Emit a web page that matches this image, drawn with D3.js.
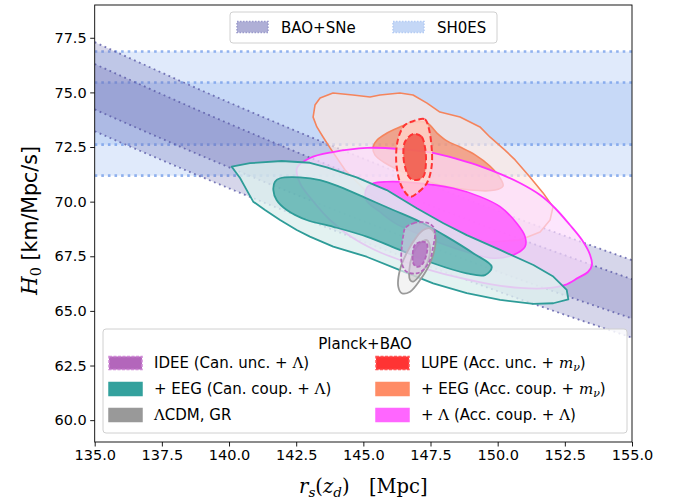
<!DOCTYPE html>
<html>
<head>
<meta charset="utf-8">
<script src="https://cdn.jsdelivr.net/npm/d3@7"></script>
<style>
  body { margin: 0; background: #fff; }
  text { font-family: "DejaVu Sans", sans-serif; }
</style>
</head>
<body>
<div id="container"></div>
<script>

  // ---- data ----
  let xTicks = [135, 137.5, 140, 142.5, 145, 147.5, 150, 152.5, 155];
  let yTicks = [60, 62.5, 65, 67.5, 70, 72.5, 75, 77.5];

  // SH0ES H0 bands [lo, hi]
  let sh0es1 = [72.61, 75.45];
  let sh0es2 = [71.19, 76.87];

  // BAO+SNe bands: [rs, lo, hi]
  let bao1 = [[135, 74.22, 76.30], [140, 71.57, 73.57], [145, 69.10, 71.03], [150, 66.80, 68.67], [155, 64.65, 66.45]];
  let bao2 = [[135, 73.22, 77.30], [140, 70.61, 74.54], [145, 68.17, 71.97], [150, 65.90, 69.57], [155, 63.77, 67.32]];

  // contours [rs, H0]
  let eegAccOuter = [[143.20, 74.42], [143.39, 74.74], [143.87, 74.97], [144.61, 74.88], [145.25, 74.79], [145.62, 74.88],
    [146.36, 74.97], [146.85, 74.88], [147.37, 74.51], [147.85, 74.10], [148.60, 73.87], [149.34, 73.42], [149.71, 72.96],
    [150.27, 72.36], [150.65, 71.91], [151.20, 71.13], [151.69, 70.40], [152.06, 69.76], [151.95, 69.16], [151.58, 68.61],
    [150.83, 68.24], [149.71, 68.15], [148.41, 68.47], [147.11, 69.07], [145.99, 69.76], [145.06, 70.53], [144.32, 71.45],
    [143.76, 72.46], [143.50, 72.96], [143.27, 73.42], [143.13, 73.87]];
  let eegAccInner = [[145.36, 72.50], [145.51, 72.82], [145.88, 73.14], [146.36, 73.42], [146.92, 73.65], [147.37, 73.60],
    [147.74, 73.14], [148.11, 72.78], [148.60, 72.50], [149.16, 72.14], [149.71, 71.63], [150.09, 71.08], [150.20, 70.72],
    [149.90, 70.53], [148.97, 70.53], [147.85, 70.76], [146.74, 71.22], [145.81, 71.77], [145.43, 72.14]];

  let lamAccOuter = [[142.53, 71.54], [143.01, 72.00], [143.87, 72.27], [145.14, 72.46], [146.36, 72.41], [147.59, 72.23],
    [148.60, 71.91], [149.34, 71.63], [150.09, 71.27], [150.83, 70.85], [151.58, 70.30], [152.13, 69.71], [152.69, 68.93],
    [153.14, 68.24], [153.44, 67.56], [153.51, 67.10], [153.36, 66.78], [152.99, 66.51], [152.51, 66.19], [151.95, 66.05],
    [150.83, 66.05], [149.71, 66.23], [148.60, 66.51], [147.48, 66.87], [146.36, 67.33], [145.43, 67.79], [144.50, 68.43],
    [143.76, 69.16], [143.09, 70.08], [142.64, 70.85]];
  let lamAccInner = [[145.12, 70.61], [145.37, 70.84], [145.87, 70.91], [146.86, 70.87], [148.35, 70.61], [149.34, 70.23],
    [150.09, 69.77], [150.71, 69.01], [151.02, 68.40], [151.02, 67.94], [150.58, 67.56], [149.84, 67.41], [148.85, 67.70],
    [147.85, 68.11], [146.99, 68.55], [146.18, 69.02], [145.62, 69.53], [145.10, 70.08]];

  let lupeOuter = [[146.80, 73.66], [147.29, 73.77], [147.42, 73.43], [147.54, 72.51], [147.54, 71.60], [147.36, 70.84],
    [146.99, 70.38], [146.74, 70.23], [146.43, 70.68], [146.24, 71.60], [146.24, 72.51], [146.36, 73.13], [146.55, 73.51]];
  let lupeInner = [[146.86, 73.10], [147.17, 72.97], [147.29, 72.51], [147.33, 71.76], [147.23, 71.14], [146.99, 70.99],
    [146.74, 71.07], [146.55, 71.60], [146.49, 72.21], [146.55, 72.74]];

  let eegCanOuter = [[140.10, 71.60], [140.78, 71.76], [141.96, 71.86], [143.01, 71.78], [143.64, 71.57], [144.75, 71.11],
    [145.87, 70.53], [146.99, 69.70], [147.98, 69.01], [148.85, 68.47], [150.09, 67.79], [151.33, 67.10], [152.07, 66.57],
    [152.57, 65.96], [152.63, 65.53], [152.07, 65.35], [151.33, 65.32], [150.09, 65.50], [148.85, 65.81], [147.60, 66.26],
    [146.36, 66.87], [145.12, 67.48], [143.88, 67.94], [143.01, 68.40], [142.52, 68.70], [141.90, 69.16], [141.34, 69.62],
    [140.90, 70.00], [140.66, 70.53], [140.41, 71.08]];
  let eegCanInner = [[141.71, 70.91], [141.90, 71.07], [142.64, 71.11], [143.39, 70.99], [144.13, 70.68], [145.12, 70.15],
    [146.11, 69.62], [147.11, 69.08], [148.10, 68.40], [149.09, 67.64], [149.78, 67.02], [149.53, 66.64], [148.85, 66.72],
    [147.60, 67.18], [146.36, 67.79], [145.12, 68.40], [143.88, 68.85], [142.89, 69.16], [142.15, 69.62], [141.77, 70.08],
    [141.65, 70.53]];

  let lcdmOuter = [[147.48, 68.78], [147.67, 68.47], [147.67, 67.94], [147.48, 67.18], [147.11, 66.41], [146.74, 65.88],
    [146.43, 65.81], [146.30, 66.11], [146.36, 66.87], [146.61, 67.64], [146.99, 68.40], [147.23, 68.70]];
  let lcdmInner = [[147.36, 68.24], [147.48, 67.94], [147.42, 67.33], [147.11, 66.64], [146.86, 66.34], [146.74, 66.41],
    [146.71, 66.87], [146.86, 67.64], [147.11, 68.09]];

  let ideeOuter = [[146.55, 68.78], [146.86, 69.01], [147.36, 69.04], [147.60, 68.85], [147.67, 68.55], [147.60, 67.94],
    [147.48, 67.33], [147.23, 66.87], [146.99, 66.72], [146.61, 66.79], [146.43, 67.18], [146.43, 67.94], [146.49, 68.47]];
  let ideeInner = [[146.92, 68.02], [147.17, 68.17], [147.36, 68.09], [147.36, 67.64], [147.17, 67.10], [146.99, 67.02],
    [146.86, 67.18], [146.84, 67.64]];

  let topLegend = ["BAO+SNe", "SH0ES"];

  // ---- layout ----
  let svg_width = 681;
  let svg_height = 499;
  let padding = {top: 5, right: 49, bottom: 57, left: 94.7};

  let xScale = d3.scaleLinear().domain([135, 155]).range([padding.left, svg_width - padding.right]);
  let yScale = d3.scaleLinear().domain([59, 79]).range([svg_height - padding.bottom, padding.top]);

  let svg = d3.select("#container").append("svg")
          .attr("width", svg_width)
          .attr("height", svg_height);

  svg.append("clipPath").attr("id", "plotclip")
          .append("rect")
          .attr("x", padding.left).attr("y", padding.top)
          .attr("width", xScale(155) - xScale(135))
          .attr("height", yScale(59) - yScale(79));

  let plot = svg.append("g").attr("clip-path", "url(#plotclip)");

  // SH0ES
  [sh0es2, sh0es1].forEach(function (b) {
    plot.append("rect")
            .attr("x", xScale(135)).attr("width", xScale(155) - xScale(135))
            .attr("y", yScale(b[1])).attr("height", yScale(b[0]) - yScale(b[1]))
            .attr("fill", "#6495ed").attr("fill-opacity", 0.2);
  });
  [sh0es2, sh0es1].forEach(function (b) {
    b.forEach(function (v) {
      plot.append("line")
              .attr("x1", xScale(135)).attr("x2", xScale(155))
              .attr("y1", yScale(v)).attr("y2", yScale(v))
              .attr("stroke", "#6f9ae8").attr("stroke-opacity", 0.75)
              .attr("stroke-width", 2.6).attr("stroke-dasharray", "2.6 4");
    });
  });

  // BAO+SNe
  let area = d3.area().x(function (d) { return xScale(d[0]) })
          .y0(function (d) { return yScale(d[1]) })
          .y1(function (d) { return yScale(d[2]) })
          .curve(d3.curveMonotoneX);
  [bao2, bao1].forEach(function (b) {
    plot.append("path").datum(b).attr("d", area)
            .attr("fill", "#6a6ab4").attr("fill-opacity", 0.28);
  });
  [bao2, bao1].forEach(function (b) {
    [1, 2].forEach(function (k) {
      plot.append("path").datum(b)
              .attr("d", d3.line().x(function (d) { return xScale(d[0]) })
                      .y(function (d) { return yScale(d[k]) }).curve(d3.curveMonotoneX))
              .attr("fill", "none").attr("stroke", "#5a5aa8").attr("stroke-opacity", 0.8)
              .attr("stroke-width", 1.8).attr("stroke-dasharray", "1.8 3.6");
    });
  });

  // contours
  let smooth = d3.line().x(function (d) { return xScale(d[0]) }).y(function (d) { return yScale(d[1]) })
          .curve(d3.curveCatmullRomClosed.alpha(0.5));
  let rough = d3.line().x(function (d) { return xScale(d[0]) }).y(function (d) { return yScale(d[1]) })
          .curve(d3.curveLinearClosed);

  let drawContour = function (pts, gen, fill, op, stroke, sw, dash) {
    plot.append("path").datum(pts).attr("d", gen)
            .attr("fill", fill).attr("fill-opacity", op)
            .attr("stroke", stroke).attr("stroke-width", sw)
            .attr("stroke-dasharray", dash || null)
            .attr("stroke-linejoin", "round");
  };

  drawContour(eegAccOuter, rough, "#ffe8e0", 0.65, "#f5845c", 1.6);
  drawContour(eegAccInner, smooth, "#f07850", 0.6, "#f5845c", 1.6);
  drawContour(lamAccOuter, smooth, "#fcdcfc", 0.7, "#ff33ff", 1.8);
  drawContour(lamAccInner, smooth, "#ff5cff", 0.85, "#ff33ff", 1.6);
  drawContour(lupeOuter, smooth, "#ffd4cc", 0.8, "#ff3333", 2, "6 3");
  drawContour(lupeInner, smooth, "#f05545", 0.85, "#ff3333", 2, "6 3");
  drawContour(eegCanOuter, rough, "#dcefee", 0.8, "#2e9c98", 1.8);
  drawContour(eegCanInner, smooth, "#33a19d", 0.62, "#2e9c98", 1.8);
  drawContour(lcdmOuter, smooth, "#eeeeee", 0.7, "#999999", 1.8);
  drawContour(lcdmInner, smooth, "#c8c8c8", 0.6, "#999999", 1.8);
  drawContour(ideeOuter, smooth, "#dcc8e6", 0.55, "#b366bb", 1.8, "4 2");
  drawContour(ideeInner, smooth, "#b070c0", 0.8, "#b366bb", 1.8, "4 2");

  // axes
  let x_axis = d3.axisBottom(xScale).tickValues(xTicks).tickFormat(d3.format(".1f")).tickSize(4.5).tickPadding(3.5);
  let y_axis = d3.axisLeft(yScale).tickValues(yTicks).tickFormat(d3.format(".1f")).tickSize(4.5).tickPadding(3.5);

  let gx = svg.append("g").attr("transform", "translate(0," + yScale(59) + ")").call(x_axis);
  let gy = svg.append("g").attr("transform", "translate(" + padding.left + ",0)").call(y_axis);
  [gx, gy].forEach(function (g) {
    g.select(".domain").remove();
    g.selectAll("text").style("font-size", "14.5px").style("font-family", "DejaVu Sans").attr("fill", "#000");
    g.selectAll("line").attr("stroke", "#000").attr("stroke-width", 0.9);
  });

  svg.append("rect")
          .attr("x", xScale(135)).attr("y", yScale(79))
          .attr("width", xScale(155) - xScale(135)).attr("height", yScale(59) - yScale(79))
          .attr("fill", "none").attr("stroke", "#000").attr("stroke-width", 0.9);

  // axis labels
  let xl = svg.append("text")
          .attr("x", (xScale(135) + xScale(155)) / 2).attr("y", 493)
          .attr("text-anchor", "middle")
          .style("font-family", "DejaVu Serif, serif").style("font-size", "19.5px");
  xl.append("tspan").style("font-style", "italic").text("r");
  xl.append("tspan").style("font-style", "italic").style("font-size", "13.5px").attr("dy", 4).text("s");
  xl.append("tspan").attr("dy", -4).text("(");
  xl.append("tspan").style("font-style", "italic").text("z");
  xl.append("tspan").style("font-style", "italic").style("font-size", "13.5px").attr("dy", 4).text("d");
  xl.append("tspan").attr("dy", -4).text(")\u2002\u2002[Mpc]");

  let yl = svg.append("text")
          .attr("transform", "translate(37," + ((yScale(59) + yScale(79)) / 2 - 3) + ") rotate(-90)")
          .attr("text-anchor", "middle")
          .style("font-size", "20.5px");
  yl.append("tspan").style("font-family", "DejaVu Serif, serif").style("font-style", "italic").style("font-size", "21.5px").text("H");
  yl.append("tspan").style("font-family", "DejaVu Serif, serif").style("font-size", "14.5px").attr("dy", 4).text("0");
  yl.append("tspan").attr("dy", -4).text(" [km/Mpc/s]");

  // top legend
  let lg1 = svg.append("g");
  lg1.append("rect").attr("x", 230).attr("y", 12).attr("width", 267).attr("height", 31).attr("rx", 3)
          .attr("fill", "#fff").attr("fill-opacity", 0.8).attr("stroke", "#d0d0d0");
  lg1.append("rect").attr("x", 237).attr("y", 21.5).attr("width", 31).attr("height", 11)
          .attr("fill", "#afafd6").attr("stroke", "#9a9acb").attr("stroke-width", 1.5).attr("stroke-dasharray", "1.5 1.5");
  lg1.append("rect").attr("x", 393).attr("y", 21.5).attr("width", 31).attr("height", 11)
          .attr("fill", "#c4d7f6").attr("stroke", "#b5ccf3").attr("stroke-width", 1.5).attr("stroke-dasharray", "1.5 1.5");
  lg1.append("text").attr("x", 281).attr("y", 33).style("font-size", "15px").text(topLegend[0]);
  lg1.append("text").attr("x", 437).attr("y", 33).style("font-size", "15px").text(topLegend[1]);

  // bottom legend
  let lg2 = svg.append("g");
  lg2.append("rect").attr("x", 103).attr("y", 329).attr("width", 524).attr("height", 104).attr("rx", 3)
          .attr("fill", "#fff").attr("fill-opacity", 0.85).attr("stroke", "#d0d0d0");
  lg2.append("text").attr("x", 365).attr("y", 349).attr("text-anchor", "middle").style("font-size", "15px").text("Planck+BAO");

  let items = [
    {col: 0, row: 0, fill: "#b366bb", edge: "#d08ad6", dash: "3 1.5", parts: [["IDEE (Can. unc. + ", ""], ["\u039B", "lam"], [")", ""]]},
    {col: 0, row: 1, fill: "#33a19d", edge: "#33a19d", dash: null, parts: [["+ EEG (Can. coup. + ", ""], ["\u039B", "lam"], [")", ""]]},
    {col: 0, row: 2, fill: "#999999", edge: "#999999", dash: null, parts: [["\u039B", "lam"], ["CDM, GR", ""]]},
    {col: 1, row: 0, fill: "#ff3333", edge: "#ff5555", dash: "3 1.5", parts: [["LUPE (Acc. unc. + ", ""], ["m", "it"], ["\u03BD", "sub"], [")", "up"]]},
    {col: 1, row: 1, fill: "#ff8c66", edge: "#ff8c66", dash: null, parts: [["+ EEG (Acc. coup. + ", ""], ["m", "it"], ["\u03BD", "sub"], [")", "up"]]},
    {col: 1, row: 2, fill: "#ff66ff", edge: "#ff66ff", dash: null, parts: [["+ ", ""], ["\u039B", "lam"], [" (Acc. coup. + ", ""], ["\u039B", "lam"], [")", ""]]}
  ];

  items.forEach(function (it) {
    let sx = it.col === 0 ? 109 : 376;
    let ty = 368 + it.row * 26;
    lg2.append("rect").attr("x", sx).attr("y", ty - 11.5).attr("width", 33).attr("height", 13)
            .attr("fill", it.fill).attr("stroke", it.edge).attr("stroke-width", 1.5)
            .attr("stroke-dasharray", it.dash);
    let t = lg2.append("text").attr("x", sx + 45).attr("y", ty).style("font-size", "15px");
    it.parts.forEach(function (p) {
      let s = t.append("tspan").text(p[0]);
      if (p[1] === "lam") s.style("font-family", "DejaVu Serif, serif").style("font-size", "15px");
      if (p[1] === "it") s.style("font-family", "DejaVu Serif, serif").style("font-style", "italic").style("font-size", "15px");
      if (p[1] === "sub") s.style("font-family", "DejaVu Serif, serif").style("font-style", "italic").style("font-size", "11px").attr("dy", 3);
      if (p[1] === "up") s.attr("dy", -3);
    });
  });

</script>
</body>
</html>
